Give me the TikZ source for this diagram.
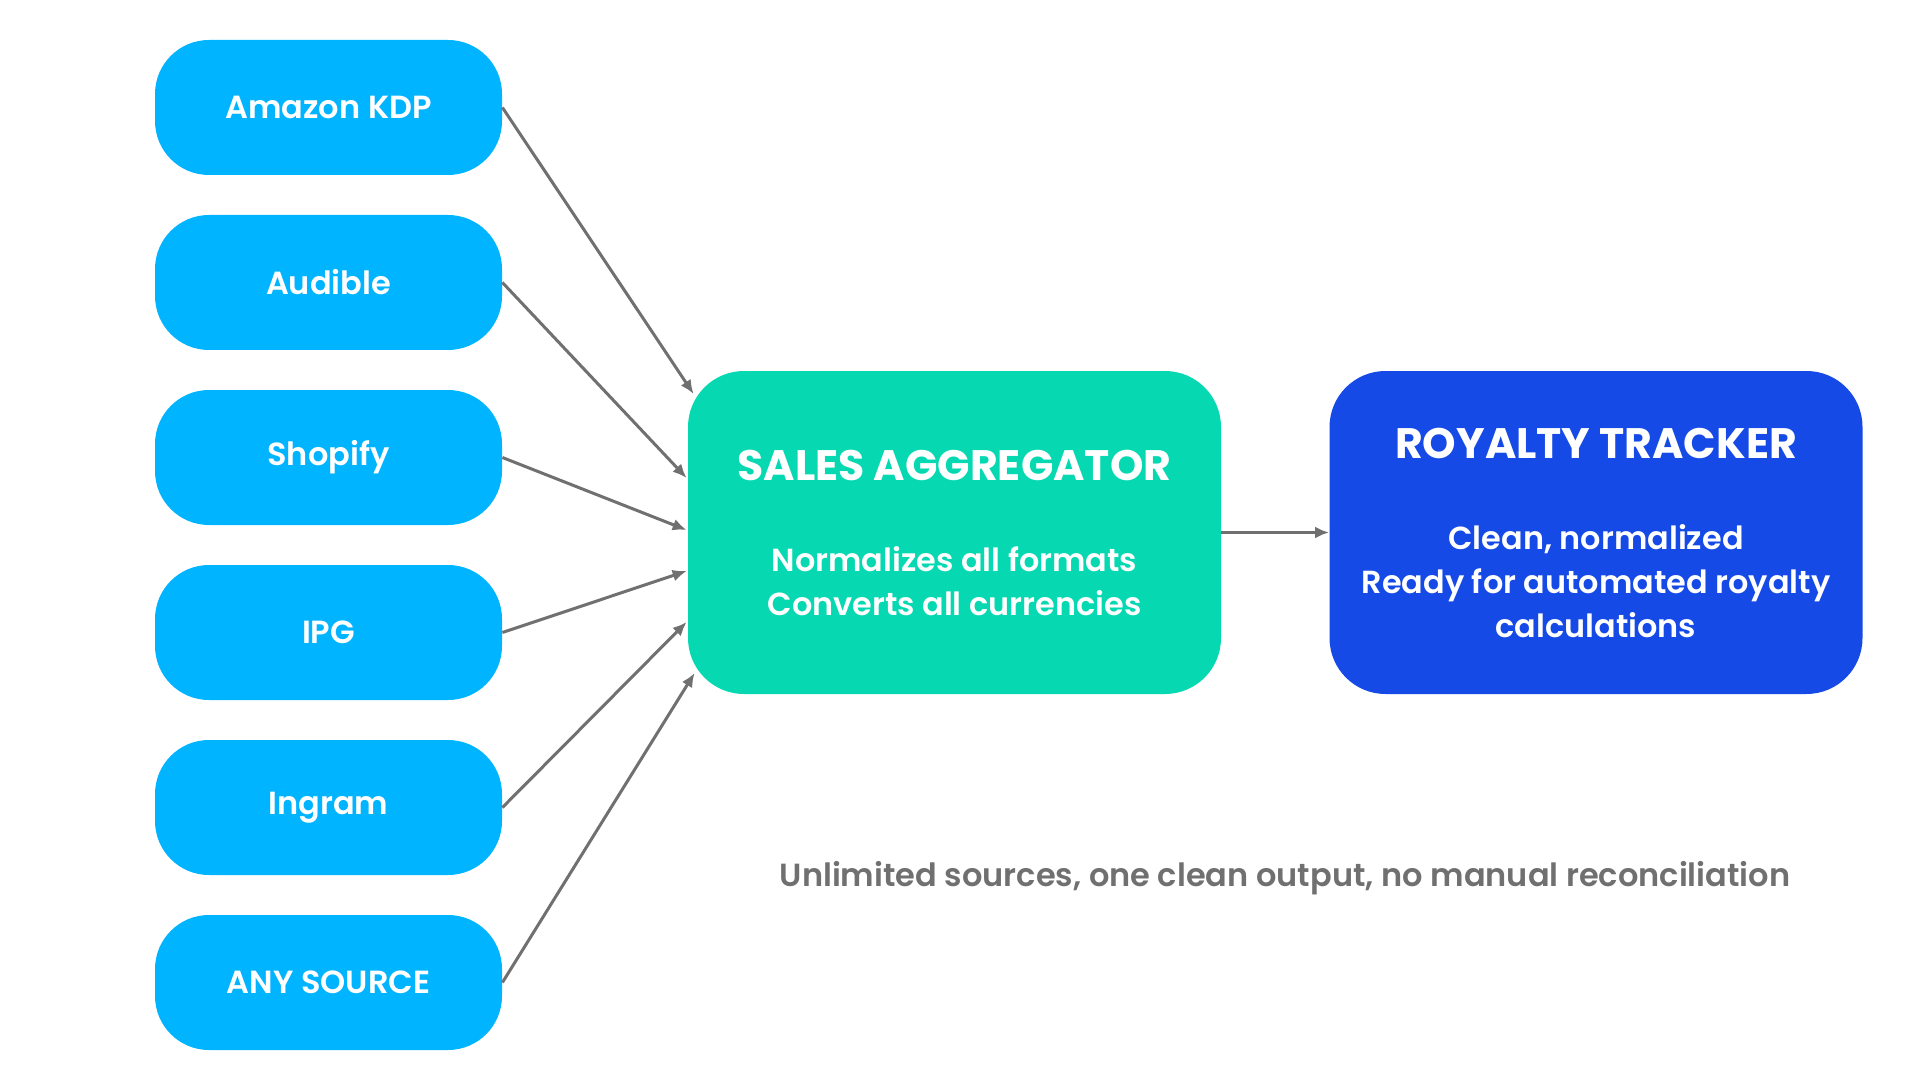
\documentclass[tikz,border=0pt]{standalone}
\usepackage{fontspec}
\setmainfont{Poppins}[BoldFont={Poppins SemiBold}]
\newfontfamily\titlefont{Poppins Bold}
\newfontfamily\bodyfont{Poppins SemiBold}
\usetikzlibrary{positioning,arrows.meta,calc}

\definecolor{sourceblue}{RGB}{0,180,255}
\definecolor{aggteal}{RGB}{6,217,178}
\definecolor{trackerblue}{RGB}{22,74,230}
\definecolor{arrowgrey}{RGB}{112,112,112}

\begin{document}
\begin{tikzpicture}[
    x = 0.5pt, y = -0.5pt,
    source/.style = {
      fill = sourceblue, text = white,
      rounded corners = 27pt,
      minimum width = 173.5pt, minimum height = 67.5pt,
      inner sep = 0pt,
      font = \bfseries\fontsize{16}{18}\selectfont
    },
    bigbox/.style = {
      text = white, align = center,
      rounded corners = 28pt,
      minimum width = 266.5pt, minimum height = 161.5pt,
      inner sep = 0pt,
      font = \bodyfont\fontsize{15.95}{22}\selectfont
    },
    feed/.style = {
      draw = arrowgrey, line width = 1.5pt,
      -{Latex[length=7pt, width=6pt]}
    }
  ]
  \useasboundingbox (0,0) rectangle (1920,1080);
  \fill[white] (0,0) rectangle (1920,1080);

  % The six sources
  \node[source] (kdp) at (328.5,107.5) {Amazon KDP};
  \node[source, below = 19.6pt of kdp]     (audible) {Audible};
  \node[source, below = 19.6pt of audible] (shopify) {Shopify};
  \node[source, below = 19.6pt of shopify] (ipg)     {IPG};
  \node[source, below = 19.6pt of ipg]     (ingram)  {Ingram};
  \node[source, below = 19.6pt of ingram]  (any)     {ANY SOURCE};

  % The two main boxes
  \node[bigbox, fill = aggteal] (agg) at (954.5,532.5)
    {{\titlefont\fontsize{21.3}{24}\selectfont SALES AGGREGATOR}\\[23.5pt]
     Normalizes all formats\\ Converts all currencies};
  \node[bigbox, fill = trackerblue] (tracker) at (1596,532.5)
    {{\titlefont\fontsize{21.3}{24}\selectfont ROYALTY TRACKER}\\[23.5pt]
     Clean, normalized\\ Ready for automated royalty\\ calculations};

  % Where the feeds come in
  \coordinate (in1) at ($(agg.west)+(6,-138.5)$);
  \coordinate (in2) at ($(agg.west)+(-1,-54.5)$);
  \coordinate (in3) at ($(agg.west)+(-1,-2.5)$);
  \coordinate (in4) at ($(agg.west)+(-1,38.5)$);
  \coordinate (in5) at ($(agg.west)+(-1,89.5)$);
  \coordinate (in6) at ($(agg.west)+(7,140.5)$);

  \draw[feed] (kdp.east)     -- (in1);
  \draw[feed] (audible.east) -- (in2);
  \draw[feed] (shopify.east) -- (in3);
  \draw[feed] (ipg.east)     -- (in4);
  \draw[feed] (ingram.east)  -- (in5);
  \draw[feed] (any.east)     -- (in6);
  \draw[feed] (agg.east)     -- (tracker.west);

  % The note
  \node[text = arrowgrey, font = \bodyfont\fontsize{16}{18}\selectfont]
    (note) at (1285,878) {Unlimited sources, one clean output, no manual reconciliation};
\end{tikzpicture}
\end{document}
